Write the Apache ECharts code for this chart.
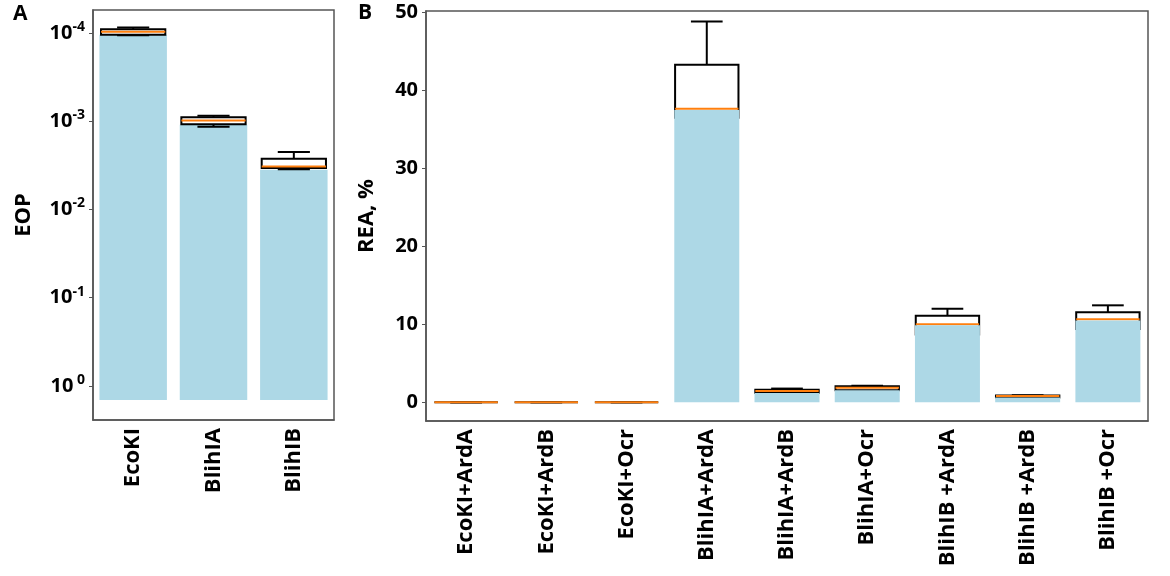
<!DOCTYPE html>
<html>
<head>
<meta charset="utf-8">
<script src="https://cdn.jsdelivr.net/npm/echarts@6/dist/echarts.min.js"></script>
<style>
  html, body { margin: 0; padding: 0; background: #fff; }
  #chart { width: 1170px; height: 576px; }
</style>
</head>
<body>
<div id="chart"></div>
<script>
// panel A: efficiency of plating
const enzymes = ['EcoKI', 'BlihIA', 'BlihIB'];
const eopBar = [1.05e-4, 1.10e-3, 3.56e-3];
const eopBarBase = 1.44;
// [lower whisker, q1, median, q3, upper whisker]
const eopBox = [
  [8.7e-5, 9.1e-5, 9.7e-5, 1.05e-4, 1.06e-4],
  [8.7e-4, 9.0e-4, 9.8e-4, 1.08e-3, 1.16e-3],
  [2.23e-3, 2.67e-3, 3.27e-3, 3.40e-3, 3.50e-3]
];
const eopTicks = [1e-4, 1e-3, 1e-2, 1e-1, 1];

// panel B: relative enzyme activity
const combos = ['EcoKI+ArdA', 'EcoKI+ArdB', 'EcoKI+Ocr', 'BlihIA+ArdA', 'BlihIA+ArdB',
  'BlihIA+Ocr', 'BlihIB +ArdA', 'BlihIB +ArdB', 'BlihIB +Ocr'];
const reaBar = [0, 0, 0, 37.5, 1.2, 1.55, 9.9, 0.62, 10.5];
const reaBox = [
  [0, 0, 0, 0, 0],
  [0, 0, 0, 0, 0],
  [0, 0, 0, 0, 0],
  [35.2, 36.5, 37.65, 43.3, 48.85],
  [1.1, 1.2, 1.45, 1.62, 1.76],
  [1.45, 1.54, 1.88, 2.05, 2.13],
  [7.44, 8.7, 10.0, 11.1, 12.0],
  [0.55, 0.62, 0.82, 0.86, 0.9],
  [8.2, 9.4, 10.64, 11.54, 12.44]
];
const reaTicks = [0, 10, 20, 30, 40, 50];

const FONT = 'Open Sans';
const BLUE = '#add8e6';
const ORANGE = '#ff7f0e';
const AXIS = '#555';

function boxItem(frac) {
  return function (params, api) {
    const i = api.value(0);
    const w = api.size([1, 0])[0] * frac;
    const y = k => api.coord([i, api.value(k)])[1];
    const x = api.coord([i, api.value(3)])[0];
    const lo = y(1), q1 = y(2), med = y(3), q3 = y(4), hi = y(5);
    const line = (x1, y1, x2, y2, c) => ({
      type: 'line', shape: {x1, y1, x2, y2},
      style: {stroke: c || '#000', lineWidth: 2}
    });
    return {
      type: 'group',
      children: [
        line(x, lo, x, q1), line(x, q3, x, hi),
        line(x - w / 4, lo, x + w / 4, lo), line(x - w / 4, hi, x + w / 4, hi),
        {type: 'rect', shape: {x: x - w / 2, y: Math.min(q1, q3), width: w, height: Math.abs(q3 - q1)},
          style: {fill: 'none', stroke: '#000', lineWidth: 2}},
        line(x - w / 2, med, x + w / 2, med, ORANGE)
      ]
    };
  };
}

const catAxis = (grid, data) => ({
  type: 'category', gridIndex: grid, data: data,
  axisLine: {onZero: false, lineStyle: {color: AXIS, width: 1.5}},
  axisTick: {alignWithLabel: true, length: 5, lineStyle: {color: AXIS, width: 1.5}},
  axisLabel: {rotate: 90, margin: 8, color: '#000', fontFamily: FONT, fontWeight: 'bold', fontSize: 22}
});

const chart = echarts.init(document.getElementById('chart'));
chart.setOption({
  animation: false,
  textStyle: {fontFamily: FONT},
  grid: [
    {left: 93, top: 10, width: 241, height: 410, show: true, borderColor: AXIS, borderWidth: 1.5},
    {left: 426, top: 11, width: 722, height: 410, show: true, borderColor: AXIS, borderWidth: 1.5}
  ],
  graphic: [
    {type: 'text', left: 13, top: 4, style: {text: 'A', font: 'bold 21px "Open Sans"', fill: '#000'}},
    {type: 'text', left: 358, top: 3, style: {text: 'B', font: 'bold 21px "Open Sans"', fill: '#000'}}
  ],
  xAxis: [catAxis(0, enzymes), catAxis(1, combos)],
  yAxis: [
    {
      type: 'log', gridIndex: 0, inverse: true, min: 5.5e-5, max: 2.43,
      name: 'EOP', nameLocation: 'middle', nameGap: 58,
      nameTextStyle: {fontFamily: FONT, fontWeight: 'bold', fontSize: 22, color: '#000'},
      splitLine: {show: false},
      axisLine: {show: true, lineStyle: {color: AXIS, width: 1.5}},
      axisTick: {show: true, customValues: eopTicks, length: 4, lineStyle: {color: AXIS}},
      axisLabel: {
        customValues: eopTicks, margin: 8, color: '#000',
        formatter: function (v) {
          const e = Math.round(Math.log10(v));
          return '{b|10}{s|' + (e === 0 ? ' 0' : e) + '}';
        },
        rich: {
          b: {fontFamily: FONT, fontWeight: 'bold', fontSize: 20, color: '#000', lineHeight: 26},
          s: {fontFamily: FONT, fontWeight: 'bold', fontSize: 14, color: '#000', verticalAlign: 'top'}
        }
      }
    },
    {
      type: 'value', gridIndex: 1, min: -2.4, max: 50.2,
      name: 'REA, %', nameLocation: 'middle', nameGap: 48,
      nameTextStyle: {fontFamily: FONT, fontWeight: 'bold', fontSize: 22, color: '#000'},
      splitLine: {show: false},
      axisLine: {show: true, lineStyle: {color: AXIS, width: 1.5}},
      axisTick: {show: true, customValues: reaTicks, length: 4, lineStyle: {color: AXIS}},
      axisLabel: {customValues: reaTicks, margin: 8, color: '#000', fontFamily: FONT, fontWeight: 'bold', fontSize: 20}
    }
  ],
  series: [
    {
      type: 'custom', xAxisIndex: 0, yAxisIndex: 0,
      data: eopBar.map((v, i) => [i, v]),
      encode: {x: 0, y: 1},
      renderItem: function (params, api) {
        const i = api.value(0);
        const w = api.size([1, 0])[0] * 0.84;
        const top = api.coord([i, api.value(1)]);
        const bot = api.coord([i, eopBarBase]);
        return {type: 'rect', shape: {x: top[0] - w / 2, y: top[1], width: w, height: bot[1] - top[1]},
          style: {fill: BLUE}};
      }
    },
    {
      type: 'custom', xAxisIndex: 0, yAxisIndex: 0,
      data: eopBox.map((b, i) => [i].concat(b)),
      encode: {x: 0, y: [1, 2, 3, 4, 5]},
      renderItem: boxItem(0.8)
    },
    {
      type: 'bar', xAxisIndex: 1, yAxisIndex: 1,
      data: reaBar, barWidth: '81%',
      itemStyle: {color: BLUE}
    },
    {
      type: 'custom', xAxisIndex: 1, yAxisIndex: 1,
      data: reaBox.map((b, i) => [i].concat(b)),
      encode: {x: 0, y: [1, 2, 3, 4, 5]},
      renderItem: boxItem(0.79)
    }
  ]
});
</script>
</body>
</html>
